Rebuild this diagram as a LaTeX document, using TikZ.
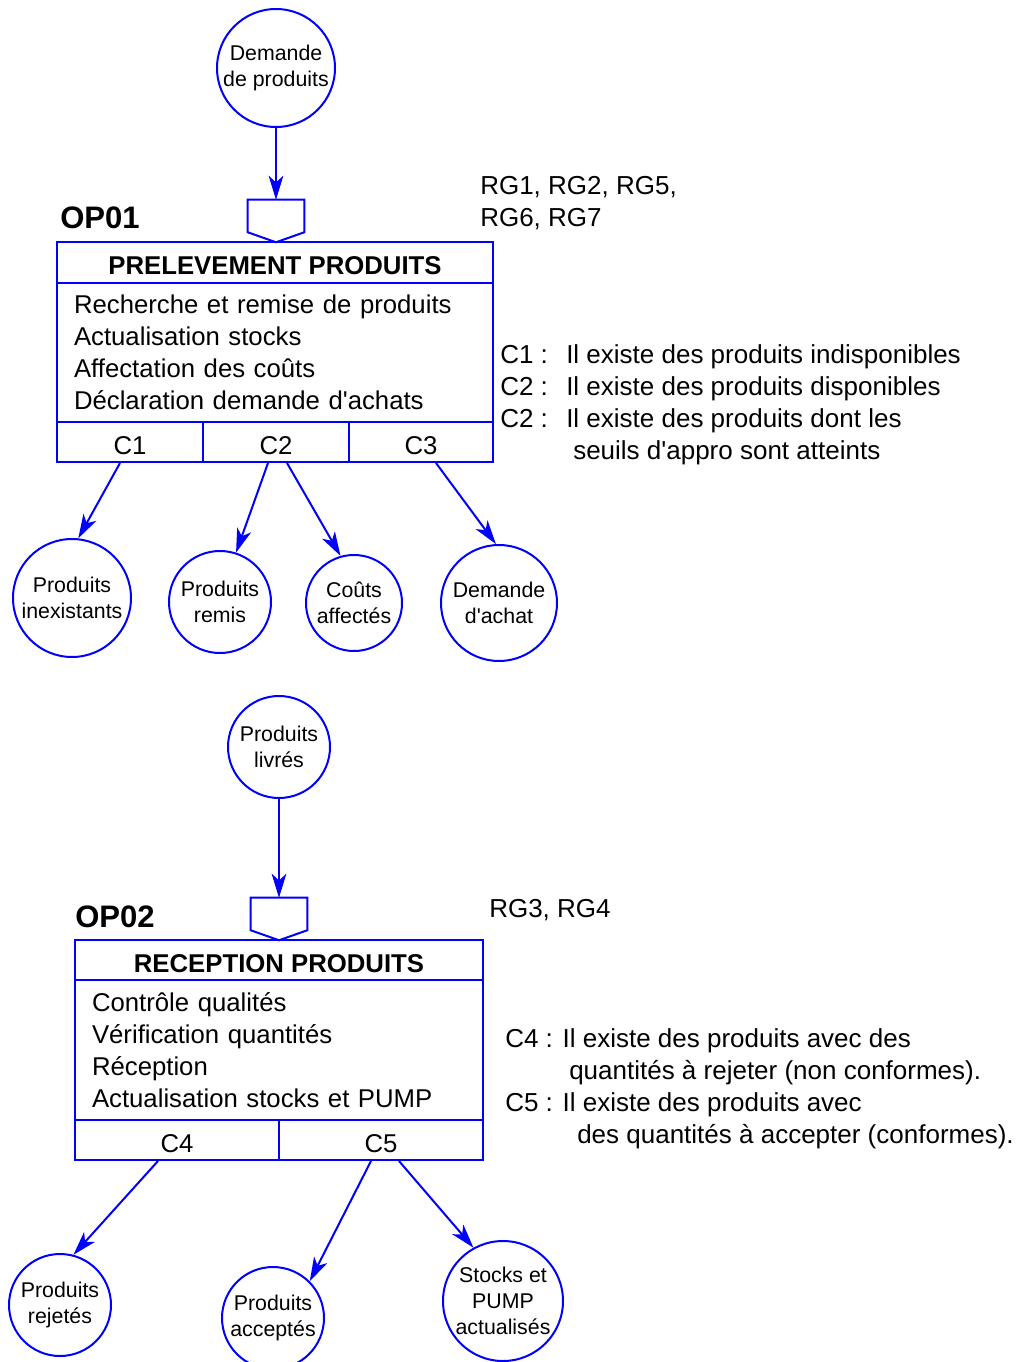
\documentclass[tikz,border=0pt]{standalone}
\usepackage{fontspec}
\newfontfamily\lsans{Liberation Sans}
\usetikzlibrary{arrows.meta}
\newdimen\pxu \pxu=0.75pt
\tikzset{
  bl/.style={draw=blue, line width=1.5pt},
  circ/.style={circle, bl, inner sep=0pt, align=center, font=\lsans\fontsize{16}{19.5}\selectfont,
    execute at begin node={\rule{0pt}{18.5pt}}},
  arr/.style={blue, line width=1.5pt, -{Stealth[length=18pt,width=11pt,inset=5pt]}},
  cell/.style={rectangle, bl, inner sep=0pt, font=\lsans\fontsize{19.3}{24}\selectfont},
  ccell/.style={cell, execute at begin node={\rule{0pt}{18.3pt}}},
  ttl/.style={ccell, font=\lsans\fontsize{19.3}{24}\selectfont\bfseries},
  txt/.style={anchor=base west, inner sep=0pt, font=\lsans\fontsize{19.5}{24}\selectfont},
  opl/.style={anchor=base west, inner sep=0pt, font=\lsans\fontsize{23.3}{28}\selectfont\bfseries},
  inbox/.style={rectangle, minimum width=56\pxu, minimum height=32\pxu, inner sep=0pt}
}
\begin{document}
\begin{tikzpicture}[x=0.75pt, y=-0.75pt]
\useasboundingbox (0,0) rectangle (1016,1362);

% ---------------- OP01 ----------------
\node[circ, minimum size=118\pxu] (dp) at (276,68) {Demande\\de produits};
\node[inbox] (in1) at (276,216) {};
\draw[bl, line join=miter] (in1.south west) -- (in1.north west) -- (in1.north east) -- (in1.south east) -- ([yshift=-10\pxu]in1.south) -- cycle;
\draw[arr] (dp) -- (in1.north);
\node[opl] (op1) at (60,229) {OP01};
\node[txt] (rg1a) at (480,195) {RG1, RG2, RG5,};
\node[txt] (rg1b) at (480,227) {RG6, RG7};

\node[ttl, minimum width=436\pxu, minimum height=41\pxu] (t1) at (275,262.5) {PRELEVEMENT PRODUITS};
\node[cell, text width=402\pxu, inner xsep=17\pxu, minimum height=139\pxu, align=left] (b1) at (275,352.5)
  {Recherche et remise de produits\\Actualisation stocks\\Affectation des coûts\\Déclaration demande d'achats};
\node[ccell, minimum width=146\pxu, minimum height=40\pxu] (c1) at (130,442) {C1};
\node[ccell, minimum width=146\pxu, minimum height=40\pxu] (c2) at (276,442) {C2};
\node[ccell, minimum width=144\pxu, minimum height=40\pxu] (c3) at (421,442) {C3};

\node[txt] (k1) at (500,363) {\makebox[66\pxu][l]{C1 :}Il existe des produits indisponibles};
\node[txt] (k2) at (500,395) {\makebox[66\pxu][l]{C2 :}Il existe des produits disponibles};
\node[txt] (k3) at (500,427) {\makebox[66\pxu][l]{C2 :}Il existe des produits dont les};
\node[txt] (k4) at (573,459) {seuils d'appro sont atteints};

\node[circ, minimum size=118\pxu] (inex) at (72,598) {Produits\\inexistants};
\node[circ, minimum size=102\pxu] (remis) at (220,602) {Produits\\remis};
\node[circ, minimum size=96\pxu] (couts) at (354,603) {Coûts\\affectés};
\node[circ, minimum size=116\pxu] (dachat) at (499,603) {Demande\\d'achat};

\draw[arr] ([xshift=-10\pxu]c1.south) -- (inex.84);
\draw[arr] ([xshift=-8\pxu]c2.south) -- (remis.72);
\draw[arr] ([xshift=11\pxu]c2.south) -- (couts.106);
\draw[arr] ([xshift=15\pxu]c3.south) -- (dachat.93);

% ---------------- OP02 ----------------
\node[circ, minimum size=102\pxu] (livres) at (279,747) {Produits\\livrés};
\node[inbox] (in2) at (279,914) {};
\draw[bl, line join=miter] (in2.south west) -- (in2.north west) -- (in2.north east) -- (in2.south east) -- ([yshift=-10\pxu]in2.south) -- cycle;
\draw[arr] (livres) -- (in2.north);
\node[opl] (op2) at (75,927) {OP02};
\node[txt] (rg2) at (489,917) {RG3, RG4};

\node[ttl, minimum width=408\pxu, minimum height=40\pxu] (t2) at (279,960) {RECEPTION PRODUITS};
\node[cell, text width=374\pxu, inner xsep=17\pxu, minimum height=140\pxu, align=left] (b2) at (279,1050)
  {Contrôle qualités\\Vérification quantités\\Réception\\Actualisation stocks et PUMP};
\node[ccell, minimum width=204\pxu, minimum height=40\pxu] (c4) at (177,1140) {C4};
\node[ccell, minimum width=204\pxu, minimum height=40\pxu] (c5) at (381,1140) {C5};

\node[txt] (k5) at (505,1047) {C4 : Il existe des produits avec des};
\node[txt] (k6) at (569,1079) {quantités à rejeter (non conformes).};
\node[txt] (k7) at (505,1111) {C5 : Il existe des produits avec};
\node[txt] (k8) at (577,1143) {des quantités à accepter (conformes).};

\node[circ, minimum size=102\pxu] (rejetes) at (60,1305) {Produits\\rejetés};
\node[circ, minimum size=102\pxu] (acceptes) at (273,1318) {Produits\\acceptés};
\node[circ, minimum size=120\pxu] (stocks) at (503,1301) {Stocks et\\PUMP\\actualisés};

\draw[arr] ([xshift=-19\pxu]c4.south) -- (rejetes.75);
\draw[arr] ([xshift=-10\pxu]c5.south) -- (acceptes.45);
\draw[arr] ([xshift=18\pxu]c5.south) -- (stocks.119);
\end{tikzpicture}
\end{document}
